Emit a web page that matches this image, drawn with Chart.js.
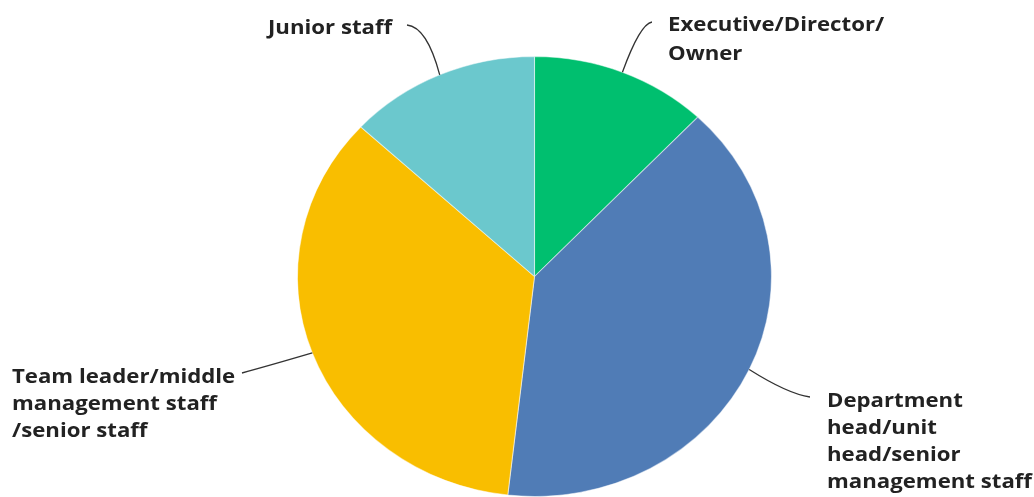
<!DOCTYPE html>
<html>
<head>
<meta charset="utf-8">
<script src="https://cdn.jsdelivr.net/npm/chart.js@4.4.1/dist/chart.umd.min.js"></script>
<style>
html,body{margin:0;padding:0;background:#fff;}
#wrap{width:1034px;height:497px;position:relative;}
</style>
</head>
<body>
<div id="wrap"><canvas id="c" width="1034" height="497"></canvas></div>
<script>
const categories = [
  ["Executive/Director/", "Owner"],
  ["Department", "head/unit", "head/senior", "management staff"],
  ["Team leader/middle", "management staff", "/senior staff"],
  ["Junior staff"]
];
const values = [12.1, 39.7, 35.1, 13.1];
const colors = ["#00BF6F", "#507CB6", "#F9BE00", "#6BC8CD"];

// label layout: text left x, first baseline y, line height, leader start and curve control
const labelPos = [
  {x: 668, y: 30.5, lh: 29.5, lx: 652, ly: 22, cx: 640, cy: 24},
  {x: 827, y: 406.5, lh: 27.2, lx: 810, ly: 397, cx: 788, cy: 394},
  {x: 12, y: 383, lh: 27, lx: 242, ly: 373, cx: 268, cy: 366},
  {x: 268, y: 34, lh: 28, lx: 407, ly: 25, cx: 427, cy: 27}
];
const SX = 237.5 / 220.5;
const FONT = 'bold 19px "Open Sans"';

const stretch = {
  id: 'stretch',
  beforeDatasetsDraw(chart) {
    const a = chart.getDatasetMeta(0).data[0];
    const ctx = chart.ctx;
    ctx.save();
    ctx.translate(a.x, a.y);
    ctx.scale(SX, 1);
    ctx.translate(-a.x, -a.y);
  },
  afterDatasetsDraw(chart) {
    chart.ctx.restore();
  }
};

const labels = {
  id: 'labels',
  afterDraw(chart) {
    const ctx = chart.ctx;
    const arcs = chart.getDatasetMeta(0).data;
    ctx.save();
    ctx.font = FONT;
    const tsx = 205 / ctx.measureText('management staff').width;
    arcs.forEach((a, i) => {
      const p = labelPos[i];
      const mid = (a.startAngle + a.endAngle) / 2;
      const ex = a.x + SX * a.outerRadius * Math.cos(mid);
      const ey = a.y + a.outerRadius * Math.sin(mid);
      ctx.beginPath();
      ctx.moveTo(p.lx, p.ly);
      ctx.quadraticCurveTo(p.cx, p.cy, ex, ey);
      ctx.strokeStyle = '#333';
      ctx.lineWidth = 1.3;
      ctx.stroke();
      ctx.fillStyle = '#222';
      ctx.font = FONT;
      ctx.textBaseline = 'alphabetic';
      ctx.textAlign = 'left';
      categories[i].forEach((t, k) => {
        ctx.save();
        ctx.translate(p.x, p.y + k * p.lh);
        ctx.scale(tsx, 1);
        ctx.fillText(t, 0, 0);
        ctx.restore();
      });
    });
    ctx.restore();
  }
};

new Chart(document.getElementById('c'), {
  type: 'pie',
  data: {
    labels: categories.map(c => c.join(' ')),
    datasets: [{
      data: values,
      backgroundColor: colors,
      borderColor: 'rgba(255,255,255,0.5)',
      borderWidth: 1,
      clip: false
    }]
  },
  options: {
    responsive: false,
    animation: false,
    layout: {padding: {top: 56, bottom: 0, left: 35, right: 0}},
    plugins: {legend: {display: false}, tooltip: {enabled: false}}
  },
  plugins: [stretch, labels]
});
</script>
</body>
</html>
